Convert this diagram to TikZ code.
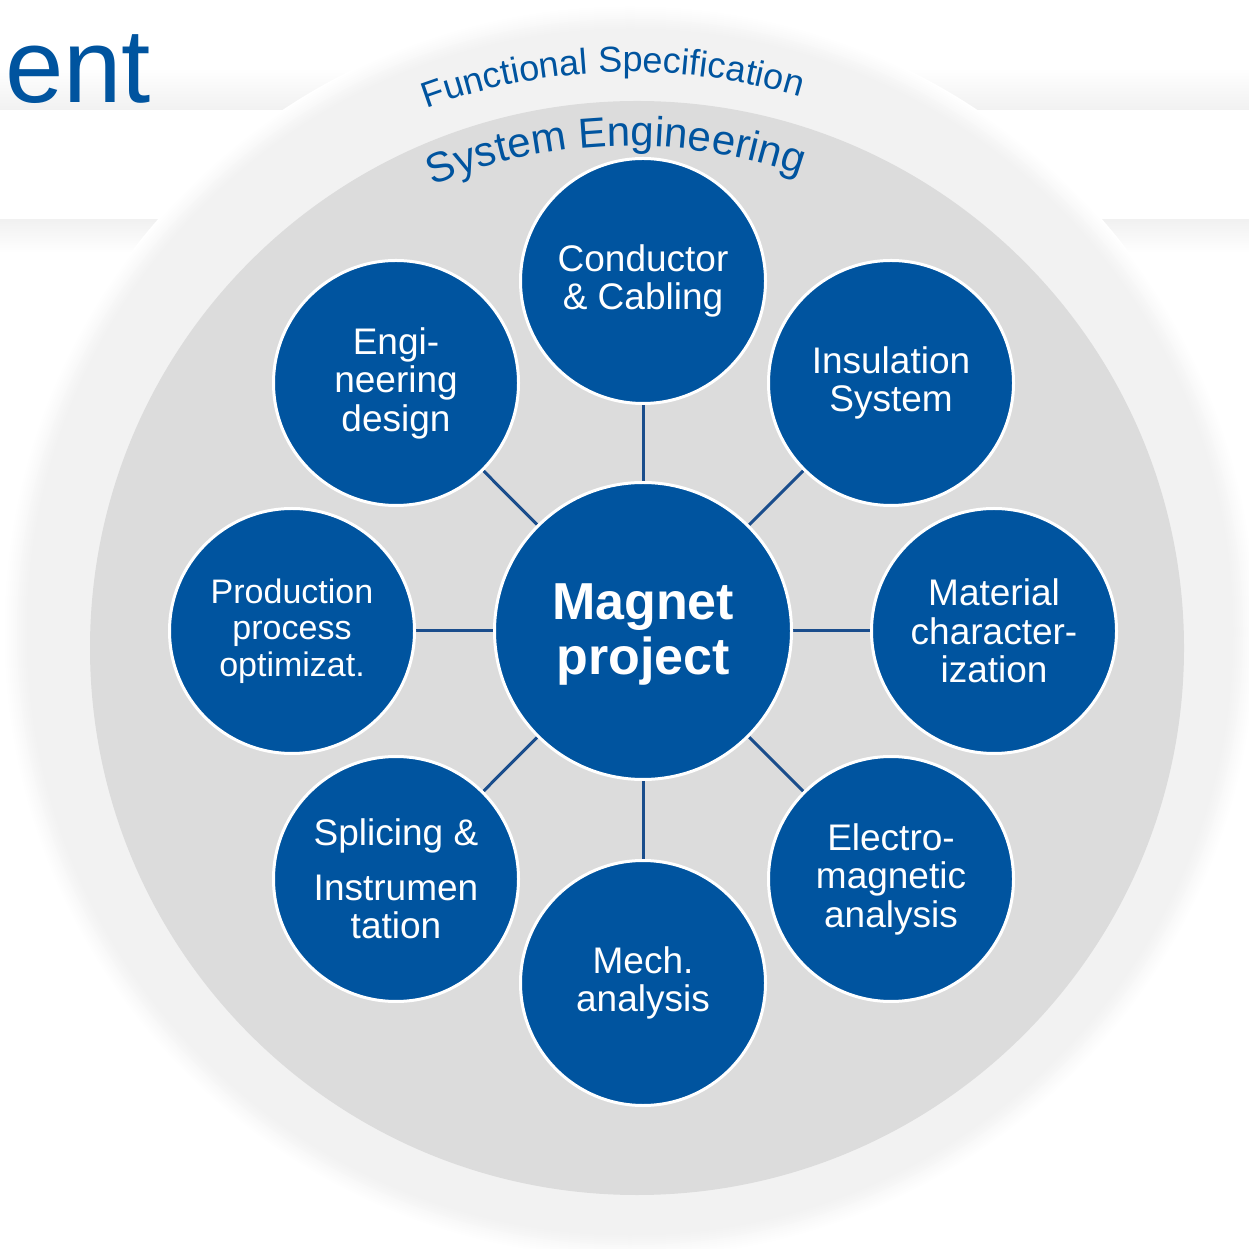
\documentclass[tikz,border=0pt]{standalone}
\usepackage{fontspec}
\setmainfont{Liberation Sans}
\usetikzlibrary{decorations.text}
\definecolor{rblue}{HTML}{00549F}
\definecolor{lblue}{HTML}{1A4D8C}
\definecolor{outerg}{HTML}{F2F2F2}
\definecolor{innerg}{HTML}{DCDCDC}
\definecolor{bandg}{HTML}{F1F1F1}
\pgfdeclarelayer{bg}
\pgfdeclarelayer{links}
\pgfsetlayers{bg,links,main}
\newcommand{\lowr}[1]{\raisebox{-4pt}[\height][\depth]{#1}}
\begin{document}
\begin{tikzpicture}[x=1pt,y=1pt,
  sat/.style={circle, fill=rblue, draw=white, line width=3pt, minimum size=245pt,
    inner sep=0pt, text=white, align=center, font=\fontsize{37}{38.5}\selectfont},
  hub/.style={sat, minimum size=297pt, font=\bfseries\fontsize{52}{55}\selectfont},
  link/.style={draw=lblue, line width=3pt},
  arctext/.style={decorate, decoration={text along path, text align=center, text color=rblue}}]
\useasboundingbox (0,0) rectangle (1249,1248);
\begin{pgfonlayer}{bg}
  \fill[white] (0,0) rectangle (1249,1248);
  % band with soft shadows
  \shade[top color=white, bottom color=bandg] (0,1180) rectangle (1249,1138);
  \shade[top color=bandg, bottom color=white] (0,1028) rectangle (1249,995);
  % outer soft circle
  \foreach \k in {0,...,12}{
    \pgfmathtruncatemacro\pc{\k*100/12}
    \pgfmathsetmacro\rr{627-2*\k}
    \fill[outerg!\pc!white] (630,616) circle[radius=\rr];
  }
  % inner circle
  \fill[innerg] (637,600) circle[radius=547];
  % title fragment
  \node[anchor=base west, inner sep=0pt, text=rblue, font=\fontsize{105}{105}\selectfont] (title) at (5,1145) {ent};
  % curved labels
  \path[arctext, decoration={text={|\fontsize{36}{36}\selectfont|Functional Specification}}]
    ([shift={(131.7:588)}]630,588) arc[start angle=131.7, end angle=51.7, radius=588];
  \path[arctext, decoration={text={|\fontsize{42}{42}\selectfont|System Engineering}}]
    ([shift={(131.6:514)}]630,588) arc[start angle=131.6, end angle=51.6, radius=514];
\end{pgfonlayer}

\node[hub] (hub) at (643,617) {\lowr{Magnet}\\\lowr{project}};
\node[sat] (cond) at (643,967) {Conductor\\\& Cabling};
\node[sat] (insu) at (891,865) {Insulation\\System};
\node[sat] (mat) at (994,617) {Material\\character-\\ization};
\node[sat] (elec) at (891,369) {Electro-\\magnetic\\analysis};
\node[sat] (mech) at (643,265) {Mech.\\analysis};
\node[sat] (spli) at (396,369) {Splicing \&\\[16pt]Instrumen\\tation};
\node[sat, font=\fontsize{34}{36.5}\selectfont] (prod) at (292,617) {Production\\process\\optimizat.};
\node[sat] (engi) at (396,865) {Engi-\\neering\\design};

\begin{pgfonlayer}{links}
  \foreach \s in {cond,insu,mat,elec,mech,spli,prod,engi}{
    \draw[link] (hub) -- (\s);
  }
\end{pgfonlayer}
\end{tikzpicture}
\end{document}
